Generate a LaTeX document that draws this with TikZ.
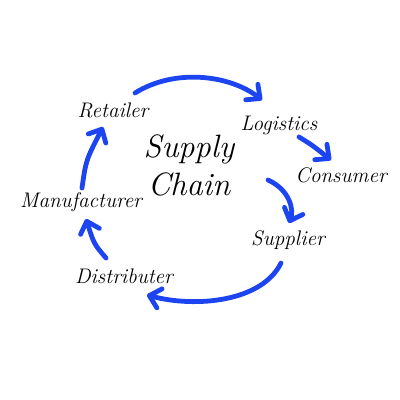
\documentclass[tikz,border=0pt]{standalone}
\usepackage{tikz}
\usetikzlibrary{arrows.meta, calc}
\definecolor{chainblue}{RGB}{28,68,240}

\tikzset{
    label/.style={font=\itshape\fontsize{15}{17}\selectfont, inner sep=0pt},
    flow/.style={draw=chainblue, line width=3.4pt, line cap=round,
        -{Straight Barb[length=7.5pt, width=14pt, line width=3.4pt, round]}}
}

\begin{document}
\begin{tikzpicture}[x=0.025cm, y=-0.025cm]
        \useasboundingbox[fill=white] (0,0) rectangle (400,400);
        % steps of the chain
        \node[label] (retailer) at (113,110) {Retailer};
        \node[label] (logistics) at (279,125) {Logistics};
        \node[label] (consumer) at (341,175) {Consumer};
        \node[label] (manufacturer) at (81,202) {Manufacturer};
        \node[label] (supplier) at (288,240) {Supplier};
        \node[label] (distributer) at (124,276) {Distributer};
        \node[label, font=\itshape\fontsize{23}{27}\selectfont, align=center] (title) at (189,165) {Supply\\Chain};
        % ends of the arrows
        \coordinate (r1) at (135,93);
        \coordinate (l1) at (262,100);
        \coordinate (l2) at (299,137);
        \coordinate (c1) at (331,160);
        \coordinate (t1) at (268,180);
        \coordinate (s1) at (289,223);
        \coordinate (s2) at (281,263);
        \coordinate (d1) at (147,295);
        \coordinate (d2) at (106,258);
        \coordinate (m1) at (86,219);
        \coordinate (m2) at (82,188);
        \coordinate (r2) at (103,127);
        \draw[flow] (r1) .. controls (175,68) and (230,75) .. (l1);
        \draw[flow] (l2) .. controls (312,145) .. (c1);
        \draw[flow] (t1) .. controls (290,190) and (294,210) .. (s1);
        \draw[flow] (s2) .. controls (262,302) and (195,308) .. (d1);
        \draw[flow] (d2) .. controls (94,244) .. (m1);
        \draw[flow] (m2) .. controls (86,160) .. (r2);
    \end{tikzpicture}
\end{document}
